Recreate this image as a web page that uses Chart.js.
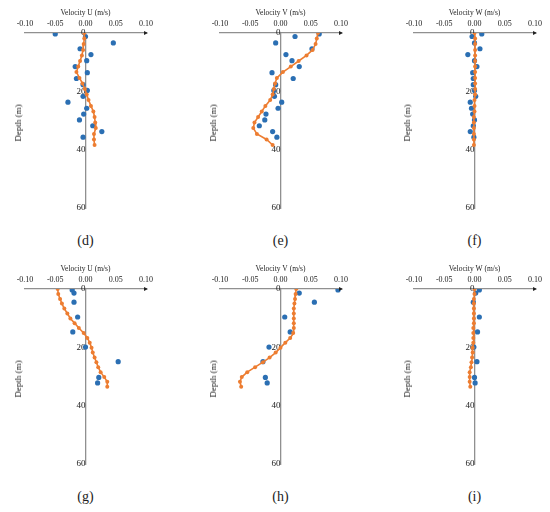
<!DOCTYPE html>
<html>
<head>
<meta charset="utf-8">
<script src="https://cdn.jsdelivr.net/npm/chart.js@4.4.1/dist/chart.umd.min.js"></script>
<style>
    body { margin: 0; background: #fff; width: 550px; height: 512px; position: relative; overflow: hidden; font-family: "Liberation Serif", serif; }
    canvas { position: absolute; }
    .depth { position: absolute; font-size: 9px; color: #222; white-space: nowrap; transform: translate(-50%, -50%) rotate(-90deg); }
    .letra { position: absolute; font-size: 14px; color: #222; transform: translate(-50%, -50%); }
</style>
</head>
<body>
<script>
// Profundidades (m): modelo (21 capas) y mediciones
const profModeloArriba = [0, 1.9, 3.8, 5.8, 7.7, 9.6, 11.5, 13.4, 15.4, 17.3, 19.2, 21.1, 23.0, 25.0, 26.9, 28.8, 30.7, 32.6, 34.6, 36.5, 38.4];
const profModeloAbajo = [0, 1.7, 3.4, 5.0, 6.7, 8.4, 10.1, 11.7, 13.4, 15.1, 16.8, 18.4, 20.1, 21.8, 23.5, 25.1, 26.8, 28.5, 30.2, 31.8, 33.5];
const profMedidoArriba = [0.3, 1.2, 3.4, 5.4, 7.4, 9.5, 11.5, 13.6, 15.6, 17.7, 19.7, 21.7, 23.7, 25.8, 27.8, 29.8, 31.8, 33.8, 35.7];
const profMedidoAbajo = [0.3, 1.4, 4.5, 9.6, 14.7, 19.9, 24.9, 30.3, 32.2];

// Velocidades del modelo (m/s)
const uModeloD = [-0.002, -0.002, -0.003, -0.004, -0.006, -0.009, -0.012, -0.015, -0.010, -0.005, -0.001, 0.002, 0.005, 0.009, 0.013, 0.015, 0.016, 0.017, 0.014, 0.014, 0.015];
const vModeloE = [0.062, 0.060, 0.058, 0.053, 0.043, 0.030, 0.017, 0.004, -0.006, -0.009, -0.011, -0.013, -0.017, -0.025, -0.031, -0.037, -0.043, -0.045, -0.039, -0.023, -0.013];
const wModeloF = [0.000, 0.001, 0.001, 0.001, 0.001, 0.001, 0.001, 0.001, 0.001, 0.001, 0.001, 0.001, 0.000, 0.000, 0.000, -0.001, -0.001, -0.001, -0.001, -0.001, -0.001];
const uModeloG = [-0.046, -0.045, -0.042, -0.039, -0.035, -0.030, -0.025, -0.018, -0.011, -0.003, 0.003, 0.007, 0.010, 0.012, 0.015, 0.018, 0.021, 0.025, 0.031, 0.036, 0.036];
const vModeloH = [0.026, 0.025, 0.024, 0.023, 0.022, 0.022, 0.022, 0.022, 0.022, 0.021, 0.016, 0.008, 0.000, -0.008, -0.018, -0.029, -0.042, -0.055, -0.064, -0.067, -0.065];
const wModeloI = [0.000, 0.000, -0.001, -0.001, -0.001, -0.001, -0.001, -0.001, -0.002, -0.002, -0.002, -0.002, -0.003, -0.003, -0.004, -0.005, -0.006, -0.008, -0.008, -0.008, -0.007];

// Velocidades medidas (m/s)
const uMedidoD = [-0.050, 0.000, 0.046, -0.009, 0.009, 0.002, -0.017, 0.003, -0.015, -0.004, 0.003, -0.004, -0.029, 0.002, -0.003, -0.010, 0.012, 0.027, -0.004];
const vMedidoE = [0.064, 0.024, -0.008, 0.052, 0.009, 0.019, 0.031, -0.014, 0.021, -0.008, -0.011, -0.010, 0.002, -0.004, -0.024, -0.026, -0.035, -0.013, -0.006];
const wMedidoF = [0.012, -0.004, 0.000, 0.009, -0.011, 0.000, 0.004, -0.003, -0.002, -0.002, 0.000, 0.002, -0.007, -0.005, -0.003, 0.000, -0.002, -0.007, -0.001];
const uMedidoG = [-0.022, -0.019, -0.019, -0.013, -0.021, 0.000, 0.054, 0.022, 0.020];
const vMedidoH = [0.095, 0.031, 0.056, 0.007, 0.016, -0.019, -0.029, -0.025, -0.022];
const wMedidoI = [0.008, 0.002, -0.002, 0.008, 0.005, -0.001, 0.004, 0.000, 0.001];

const ticksVelocidad = [-0.10, -0.05, 0.00, 0.05, 0.10];
const ticksProfundidad = [0, 20, 40, 60];

const azul = '#2b6fb3';
const naranja = '#ed7d31';
const fuente = '"Liberation Serif", "Times New Roman", serif';

const paneles = [
    { letra: '(d)', titulo: 'Velocity U (m/s)', modelo: uModeloD, medido: uMedidoD, profModelo: profModeloArriba, profMedido: profMedidoArriba, x: 0, y: 0 },
    { letra: '(e)', titulo: 'Velocity V (m/s)', modelo: vModeloE, medido: vMedidoE, profModelo: profModeloArriba, profMedido: profMedidoArriba, x: 195, y: 0 },
    { letra: '(f)', titulo: 'Velocity W (m/s)', modelo: wModeloF, medido: wMedidoF, profModelo: profModeloArriba, profMedido: profMedidoArriba, x: 389, y: 0 },
    { letra: '(g)', titulo: 'Velocity U (m/s)', modelo: uModeloG, medido: uMedidoG, profModelo: profModeloAbajo, profMedido: profMedidoAbajo, x: 0, y: 256 },
    { letra: '(h)', titulo: 'Velocity V (m/s)', modelo: vModeloH, medido: vMedidoH, profModelo: profModeloAbajo, profMedido: profMedidoAbajo, x: 195, y: 256 },
    { letra: '(i)', titulo: 'Velocity W (m/s)', modelo: wModeloI, medido: wMedidoI, profModelo: profModeloAbajo, profMedido: profMedidoAbajo, x: 389, y: 256 }
];

// Flechita al final del eje de velocidad
const flechaEje = {
    id: 'flechaEje',
    afterDraw(chart) {
        const ctx = chart.ctx;
        const xs = chart.scales.x;
        const px = xs.getPixelForValue(xs.max);
        const py = xs.bottom;
        ctx.save();
        ctx.fillStyle = '#222';
        ctx.beginPath();
        ctx.moveTo(px + 2, py);
        ctx.lineTo(px - 2, py - 2);
        ctx.lineTo(px - 2, py + 2);
        ctx.closePath();
        ctx.fill();
        ctx.restore();
    }
};

function crearPanel(p) {
    const canvas = document.createElement('canvas');
    canvas.width = 171;
    canvas.height = 230;
    canvas.style.left = p.x + 'px';
    canvas.style.top = p.y + 'px';
    document.body.appendChild(canvas);

    const chart = new Chart(canvas.getContext('2d'), {
        type: 'scatter',
        data: {
            datasets: [
                {
                    label: 'Modelo',
                    data: p.modelo.map((v, i) => ({ x: v, y: p.profModelo[i] })),
                    showLine: true,
                    borderColor: naranja,
                    backgroundColor: naranja,
                    borderWidth: 1.6,
                    pointRadius: 2,
                    pointBorderWidth: 0
                },
                {
                    label: 'Medido',
                    data: p.medido.map((v, i) => ({ x: v, y: p.profMedido[i] })),
                    borderColor: azul,
                    backgroundColor: azul,
                    pointRadius: 2.6,
                    pointBorderWidth: 0
                }
            ]
        },
        options: {
            responsive: false,
            animation: false,
            events: [],
            layout: { padding: { left: 25, right: 25, top: 0, bottom: 22 } },
            plugins: { legend: { display: false }, tooltip: { enabled: false } },
            scales: {
                x: {
                    type: 'linear',
                    position: 'top',
                    min: ticksVelocidad[0],
                    max: ticksVelocidad[ticksVelocidad.length - 1],
                    afterBuildTicks: s => { s.ticks = ticksVelocidad.map(v => ({ value: v })); },
                    afterFit: s => { s.height = 33; },
                    ticks: {
                        callback: v => (Math.abs(v) < 1e-9 ? '0.00' : v.toFixed(2)),
                        font: { family: fuente, size: 8 },
                        color: '#222',
                        padding: 4,
                        maxRotation: 0,
                        autoSkip: false
                    },
                    grid: { display: false, drawTicks: false },
                    border: { color: '#909090', width: 1.3 },
                    title: { display: true, text: p.titulo, font: { family: fuente, size: 7.5 }, color: '#222', padding: { top: 9, bottom: 0 } }
                },
                y: {
                    type: 'linear',
                    position: { x: 0 },
                    reverse: true,
                    min: 0,
                    max: 60,
                    afterBuildTicks: s => { s.ticks = ticksProfundidad.map(v => ({ value: v })); },
                    ticks: { font: { family: fuente, size: 9 }, color: '#222', padding: 8 },
                    grid: { display: false, drawTicks: false },
                    border: { color: '#909090', width: 1.3 }
                }
            }
        },
        plugins: [flechaEje]
    });

    // Etiqueta del eje de profundidad y letra del panel
    const area = chart.chartArea;
    const depth = document.createElement('div');
    depth.className = 'depth';
    depth.textContent = 'Depth (m)';
    depth.style.left = (p.x + area.left - 7) + 'px';
    depth.style.top = (p.y + area.top + 90) + 'px';
    document.body.appendChild(depth);

    const letra = document.createElement('div');
    letra.className = 'letra';
    letra.textContent = p.letra;
    letra.style.left = (p.x + chart.scales.x.getPixelForValue(0)) + 'px';
    letra.style.top = (p.y + 241) + 'px';
    document.body.appendChild(letra);
}

paneles.forEach(crearPanel);
</script>
</body>
</html>
